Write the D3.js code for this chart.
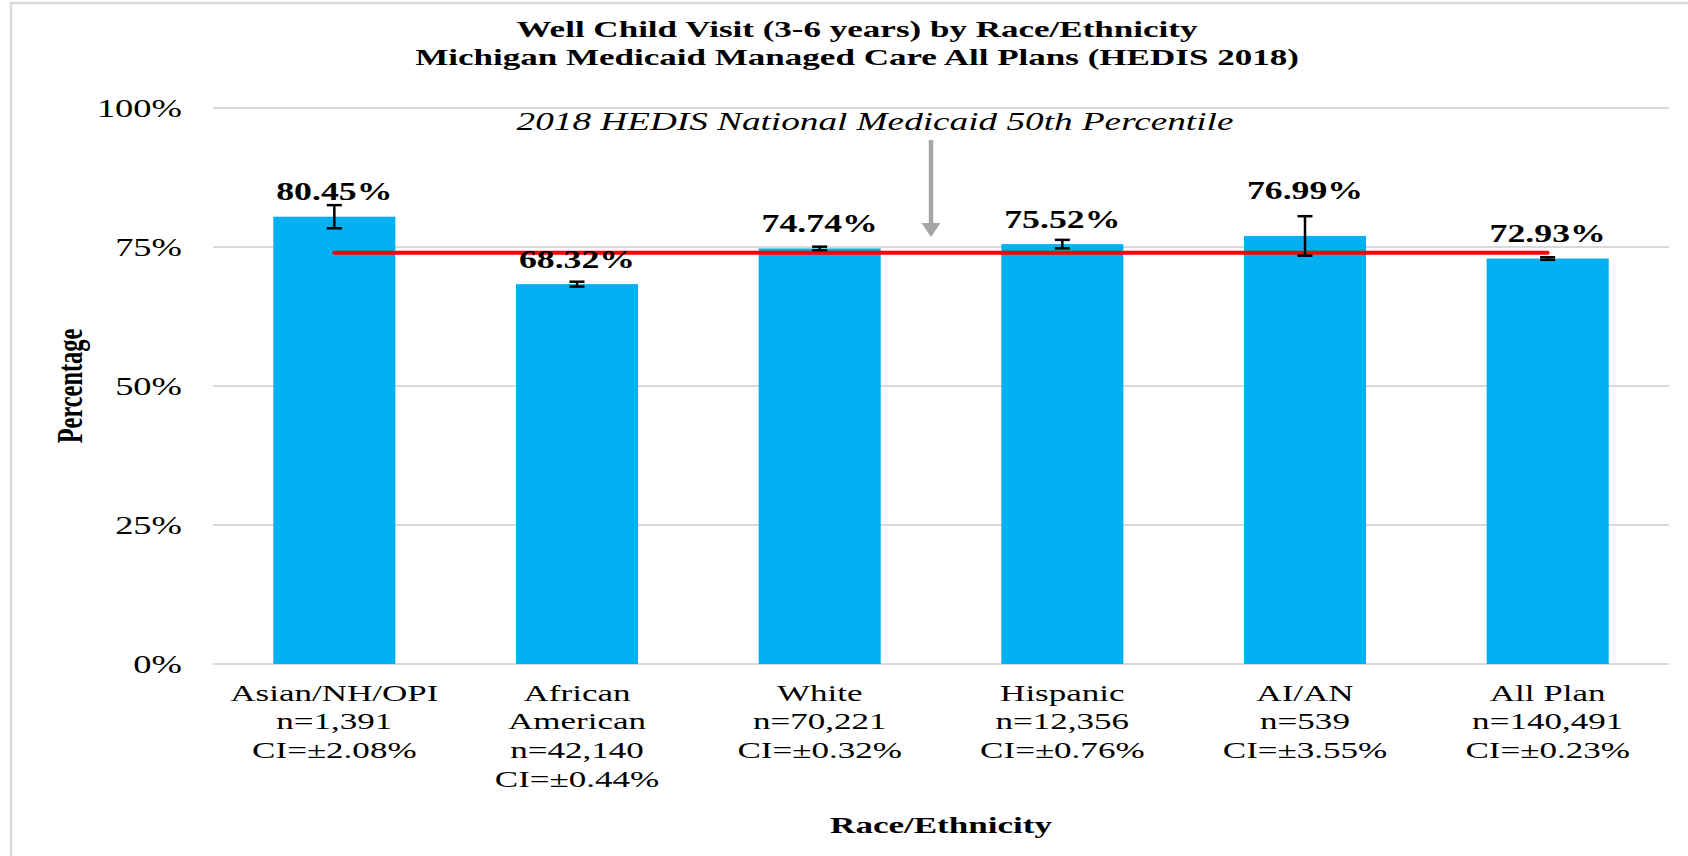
<!DOCTYPE html>
<html>
<head>
<meta charset="utf-8">
<script src="https://cdn.jsdelivr.net/npm/d3@7"></script>
<style>
    html, body { margin: 0; padding: 0; background: #fff; }
    svg { display: block; }
    text { font-family: "Liberation Serif", "Times New Roman", serif; fill: #000; }
</style>
</head>
<body>
<div id="chart"></div>
<script>
var categories = ['Asian/NH/OPI', 'African American', 'White', 'Hispanic', 'AI/AN', 'All Plan'];
var rates = [80.45, 68.32, 74.74, 75.52, 76.99, 72.93];
var counts = [1391, 42140, 70221, 12356, 539, 140491];
var intervals = [2.08, 0.44, 0.32, 0.76, 3.55, 0.23];
var yTicks = [0, 25, 50, 75, 100];
var benchmark = 73.97;
var titleLines = ['Well Child Visit (3-6 years) by Race/Ethnicity',
                  'Michigan Medicaid Managed Care All Plans (HEDIS 2018)'];
var benchmarkLabel = '2018 HEDIS National Medicaid 50th Percentile';

(function (d3) {
    'use strict';

    var W = 1688,
        H = 856,
        SX = 1.46, // the source picture is stretched sideways
        margin = {top: 108, right: 19, bottom: 192, left: 213},
        grid = '#D9D9D9';

    var svg = d3.select('#chart')
        .append('svg')
        .attr('width', W)
        .attr('height', H);

    var x = d3.scaleBand()
        .domain(categories)
        .range([margin.left, W - margin.right])
        .paddingInner(0.497)
        .paddingOuter(0.2485);

    var y = d3.scaleLinear()
        .domain([0, 100])
        .range([H - margin.bottom, margin.top]);

    function cx(i) {
        return x(categories[i]) + x.bandwidth() / 2;
    }

    // text drawn at (0,0) in a stretched frame
    function stext(parent, px, py, str) {
        return parent.append('text')
            .attr('transform', 'translate(' + px + ',' + py + ') scale(' + SX + ',1)')
            .text(str);
    }

    // frame of the pasted picture
    svg.append('path')
        .attr('d', 'M11,' + H + 'V3H' + W)
        .attr('fill', 'none')
        .attr('stroke', grid)
        .attr('stroke-width', 2.5);

    // title
    titleLines.forEach(function (t, i) {
        stext(svg, (margin.left + W - margin.right) / 2 - 84, 36.5 + i * 28.5, t)
            .attr('text-anchor', 'middle')
            .attr('font-weight', 'bold')
            .attr('font-size', 24);
    });

    // gridlines and y labels
    var yAxis = svg.append('g');
    yTicks.forEach(function (t) {
        yAxis.append('line')
            .attr('x1', margin.left)
            .attr('x2', W - margin.right)
            .attr('y1', y(t))
            .attr('y2', y(t))
            .attr('stroke', grid)
            .attr('stroke-width', 2);
        stext(yAxis, 182, y(t) + 8.5, t + '%')
            .attr('text-anchor', 'end')
            .attr('font-size', 25);
    });

    svg.append('text')
        .attr('transform', 'translate(82,386) scale(' + SX + ',1) rotate(-90)')
        .attr('text-anchor', 'middle')
        .attr('font-weight', 'bold')
        .attr('font-size', 24.4)
        .text('Percentage');

    // bars
    svg.append('g')
        .selectAll('rect')
        .data(rates)
        .enter()
        .append('rect')
        .attr('x', function (d, i) { return x(categories[i]); })
        .attr('y', function (d) { return y(d); })
        .attr('width', x.bandwidth())
        .attr('height', function (d) { return y(0) - y(d); })
        .attr('fill', '#00B0F0');

    // benchmark line
    svg.append('line')
        .attr('x1', cx(0))
        .attr('x2', cx(categories.length - 1))
        .attr('y1', y(benchmark))
        .attr('y2', y(benchmark))
        .attr('stroke', '#FF0000')
        .attr('stroke-width', 4)
        .attr('stroke-linecap', 'round');

    // error bars
    var err = svg.append('g')
        .attr('stroke', '#000')
        .attr('stroke-width', 2.5);
    rates.forEach(function (r, i) {
        var top = y(r + intervals[i]),
            bot = y(r - intervals[i]),
            c = cx(i);
        err.append('line').attr('x1', c).attr('x2', c).attr('y1', top).attr('y2', bot);
        err.append('line').attr('x1', c - 7.5).attr('x2', c + 7.5).attr('y1', top).attr('y2', top);
        err.append('line').attr('x1', c - 7.5).attr('x2', c + 7.5).attr('y1', bot).attr('y2', bot);
    });

    // value labels, lifted over the error bar when they would hit it
    var labels = svg.append('g');
    rates.forEach(function (r, i) {
        var base = y(r) - 16.5,
            errTop = y(r + intervals[i]);
        if (errTop < base + 2) {
            base = errTop - 17;
        }
        stext(labels, cx(i), base, r.toFixed(2) + '%')
            .attr('text-anchor', 'middle')
            .attr('font-weight', 'bold')
            .attr('font-size', 24.5);
    });

    // benchmark note and arrow
    var ax = (cx(2) + cx(3)) / 2 - 10;
    stext(svg, 875, 130, benchmarkLabel)
        .attr('text-anchor', 'middle')
        .attr('font-style', 'italic')
        .attr('font-size', 25.5)
        .attr('fill', '#262626');
    svg.append('line')
        .attr('x1', ax).attr('x2', ax)
        .attr('y1', 140).attr('y2', 224)
        .attr('stroke', '#A6A6A6')
        .attr('stroke-width', 4.5);
    svg.append('path')
        .attr('d', 'M' + (ax - 9.5) + ',223L' + (ax + 9.5) + ',223L' + ax + ',237Z')
        .attr('fill', '#A6A6A6');

    // category labels, wrapped to the band step
    var probe = svg.append('text').attr('font-size', 24);
    function wrap(str) {
        var words = str.split(' '),
            lines = [],
            line = '';
        words.forEach(function (w) {
            var next = line ? line + ' ' + w : w;
            probe.text(next);
            if (line && probe.node().getComputedTextLength() * SX > x.step()) {
                lines.push(line);
                line = w;
            } else {
                line = next;
            }
        });
        lines.push(line);
        return lines;
    }

    var fmt = d3.format(',');
    var xl = svg.append('g');
    categories.forEach(function (c, i) {
        var lines = wrap(c)
            .concat(['n=' + fmt(counts[i]), 'CI=\u00b1' + intervals[i].toFixed(2) + '%']);
        lines.forEach(function (l, j) {
            stext(xl, cx(i), 700.7 + j * 28.6, l)
                .attr('text-anchor', 'middle')
                .attr('font-size', 24);
        });
    });
    probe.remove();

    stext(svg, (margin.left + W - margin.right) / 2, 832.5, 'Race/Ethnicity')
        .attr('text-anchor', 'middle')
        .attr('font-weight', 'bold')
        .attr('font-size', 24);

})(d3);
</script>
</body>
</html>
